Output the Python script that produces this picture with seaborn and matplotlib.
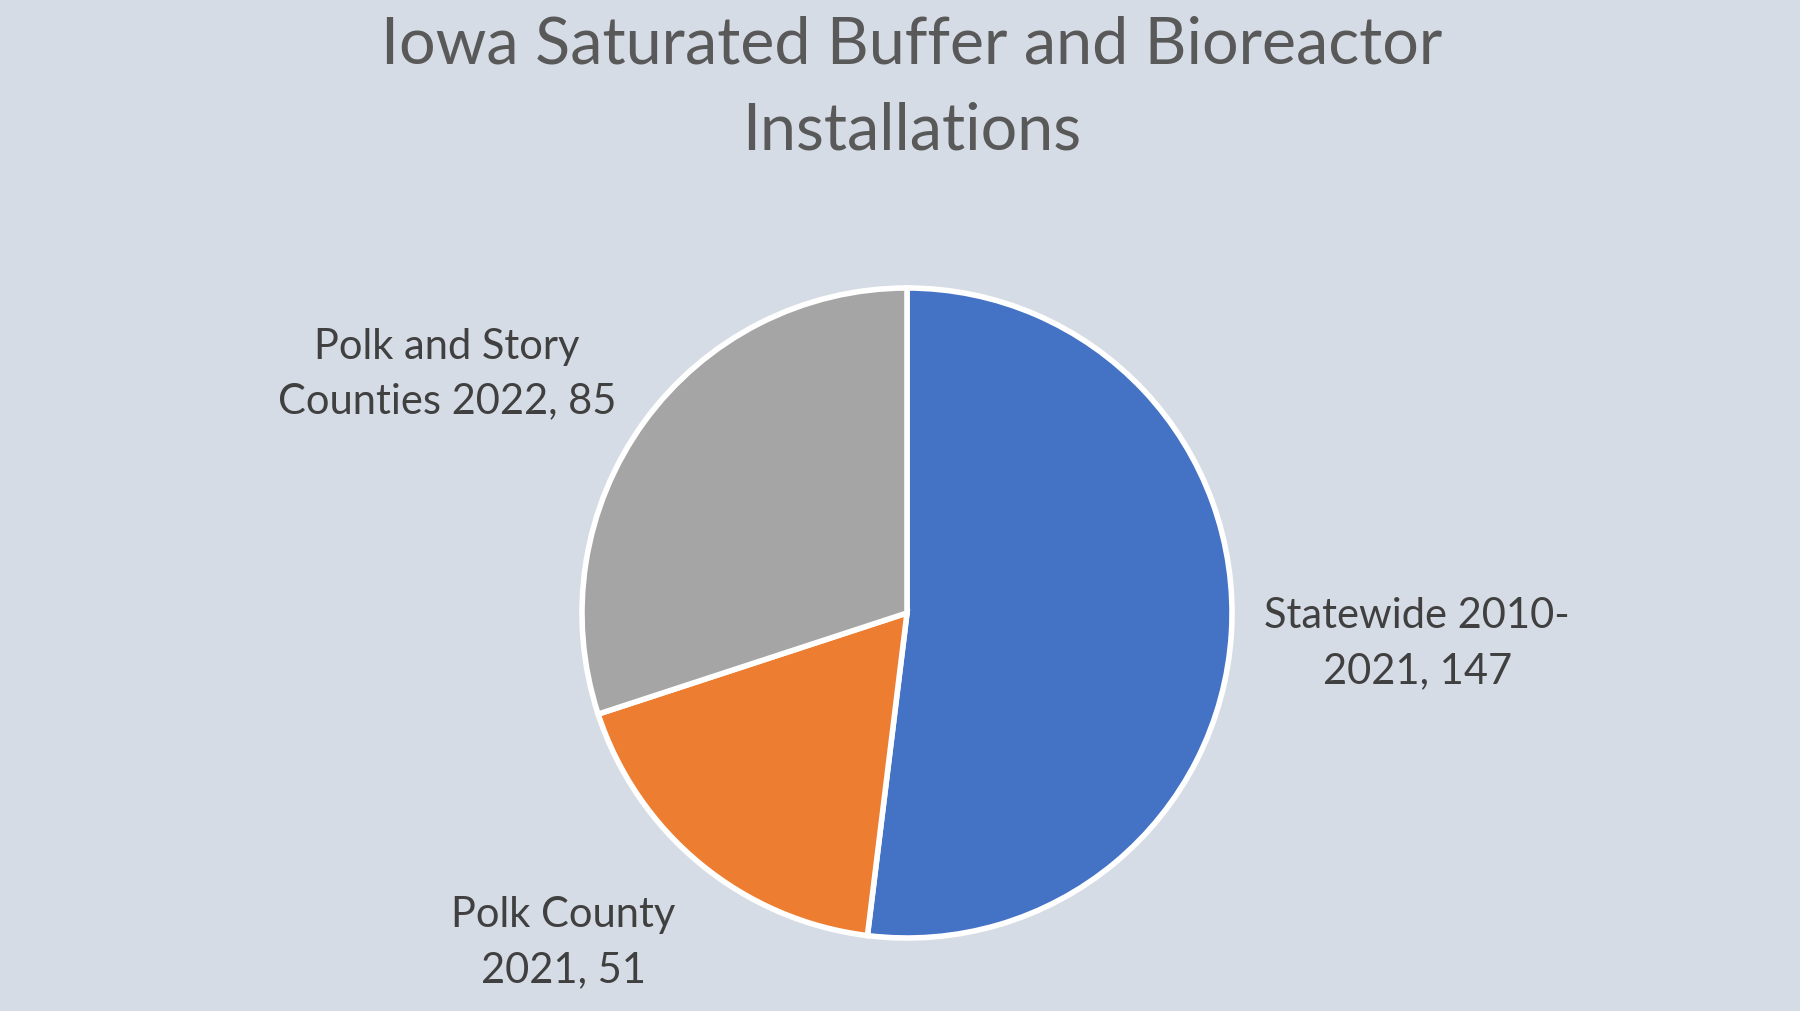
import matplotlib
matplotlib.use("Agg")
import matplotlib.pyplot as plt
import seaborn as sns
import numpy as np

categories = ["Statewide 2010-\n2021", "Polk County\n2021", "Polk and Story\nCounties 2022"]
values = [147, 51, 85]
colors = ["#4472C4", "#ED7D31", "#A5A5A5"]
title = "Iowa Saturated Buffer and Bioreactor\nInstallations"

# label offsets (layout only), in radius units relative to pie centre
label_pos = [(1.57, -0.09), (-1.058, -1.012), (-1.415, 0.738)]

sns.set_theme(style="white")
plt.rcParams['font.family'] = ['Lato', 'DejaVu Sans']

W, H = 1800, 1012
bg = "#D6DCE5"
fig = plt.figure(figsize=(W / 100, H / 100), dpi=100, facecolor=bg)
ax = fig.add_axes([0, 0, 1, 1])
ax.set_facecolor(bg)

cx, cy, R = 907, 614, 325

ax.pie(values, colors=colors, startangle=90, counterclock=False, radius=1,
       wedgeprops=dict(edgecolor="white", linewidth=4))

ax.set_xlim(-cx / R, (W - cx) / R)
ax.set_ylim(-(H - cy) / R, cy / R)
ax.set_aspect('equal')
ax.axis('off')

for cat, v, (x, y) in zip(categories, values, label_pos):
    ax.text(x, y, f"{cat}, {v}", ha="center", va="center", fontsize=30,
            color="#404040", linespacing=1.55)

fig.text(912 / W, 1 - 88 / H, title, ha="center", va="center", fontsize=46.5,
         color="#595959", linespacing=1.55)

fig.savefig("out.png", dpi=100, facecolor=bg)
